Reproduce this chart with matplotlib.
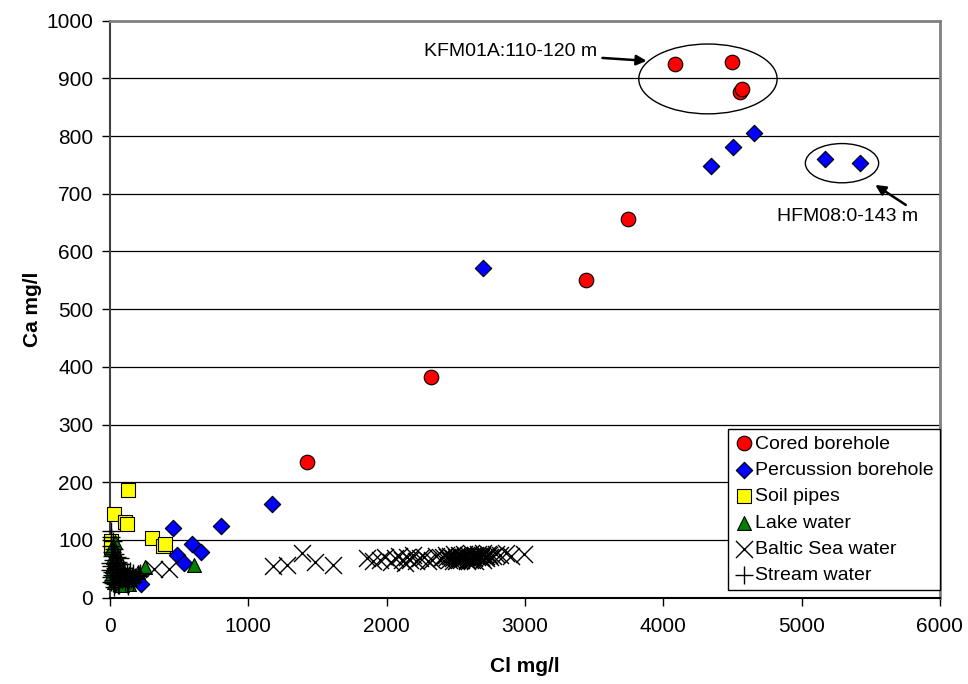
import matplotlib
matplotlib.use("Agg")
import matplotlib.pyplot as plt
from matplotlib.patches import Ellipse
import numpy as np

plt.rcParams['font.family'] = ['Liberation Sans', 'DejaVu Sans']

# Cored borehole
cored_cl = [1424, 2320, 3441, 3745, 4084, 4496, 4554, 4569]
cored_ca = [235, 382, 551, 656, 925, 928, 876, 881]

# Percussion borehole
perc_cl = [224, 455, 484, 535, 593, 658, 802, 1171, 2696, 4345, 4504, 4655, 5169, 5422]
perc_ca = [24, 121, 74, 60, 93, 79, 124, 162, 571, 748, 781, 805, 760, 753]

# Soil pipes
soil_cl = [130, 29, 108, 304, 383, 398, 10, 5, 120]
soil_ca = [187, 145, 131, 103, 90, 93, 98, 88, 128]

# Lake water
lake_cl = [35, 20, 10, 45, 25, 60, 15, 80, 100, 5, 50, 130, 70, 140, 253, 610,
           170, 30, 90, 200, 110, 40, 12]
lake_ca = [96, 90, 85, 78, 70, 60, 55, 50, 45, 40, 35, 38, 30, 24, 53, 57,
           40, 28, 22, 45, 35, 62, 48]

# Baltic Sea water
baltic_cl = [318, 427, 1180, 1280, 1387, 1482, 1612, 1860, 1900, 1950, 1990, 2030,
             2060, 2090, 2110, 2130, 2150, 2170, 2190, 2210, 2240, 2270, 2300, 2330,
             2360, 2390, 2410, 2430, 2450, 2460, 2480, 2490, 2500, 2510, 2520, 2530,
             2540, 2550, 2560, 2570, 2580, 2590, 2600, 2610, 2620, 2630, 2640, 2650,
             2660, 2670, 2680, 2690, 2700, 2710, 2720, 2730, 2740, 2750, 2770, 2790,
             2820, 2860, 2900, 2990, 2480, 2520, 2560, 2600, 2640, 2680, 2720, 2580,
             2620, 2660, 2540, 2500, 2700, 2440]
baltic_ca = [50, 50, 55, 57, 78, 62, 57, 68, 64, 66, 70, 62, 68, 72, 65, 60, 70, 66,
             74, 63, 68, 70, 64, 66, 72, 68, 70, 74, 66, 72, 68, 76, 70, 66, 74, 72,
             68, 70, 76, 72, 66, 74, 70, 78, 72, 68, 74, 70, 76, 72, 68, 74, 78, 70,
             72, 76, 74, 70, 72, 76, 74, 78, 72, 76, 64, 66, 68, 66, 64, 70, 68, 64,
             66, 72, 66, 64, 66, 70]

# Stream water
stream_cl = [5, 10, 20, 8, 30, 15, 40, 50, 25, 60, 70, 10, 35, 80, 100, 120, 45,
             140, 160, 5, 55, 90, 110, 20, 65, 130, 180, 200, 220, 30, 15, 75, 2, 150,
             12, 45, 85, 3, 25, 40, 60, 95, 115, 135, 170, 190, 210, 18, 50, 70, 105,
             125, 145, 165, 8, 35, 55, 80]
stream_ca = [115, 105, 98, 90, 85, 80, 75, 70, 65, 62, 58, 55, 52, 50, 48, 45, 42,
             40, 38, 36, 33, 30, 28, 25, 22, 20, 35, 40, 42, 18, 45, 68, 60, 32,
             72, 57, 38, 48, 30, 24, 45, 52, 36, 30, 28, 34, 38, 40, 60, 44, 40,
             24, 46, 42, 28, 36, 22, 58]

fig = plt.figure(figsize=(9.68, 6.84), dpi=100)
ax = fig.add_axes([0.1136, 0.1262, 0.8574, 0.8436])

ax.scatter(cored_cl, cored_ca, s=110, marker='o', facecolor='#ff0000',
           edgecolor='black', linewidth=0.8, zorder=3, clip_on=False, label='Cored borehole')
ax.scatter(perc_cl, perc_ca, s=70, marker='D', facecolor='#0000ff',
           edgecolor='black', linewidth=0.8, zorder=3, clip_on=False, label='Percussion borehole')
ax.scatter(soil_cl, soil_ca, s=90, marker='s', facecolor='#ffff00',
           edgecolor='black', linewidth=0.8, zorder=3, clip_on=False, label='Soil pipes')
ax.scatter(lake_cl, lake_ca, s=100, marker='^', facecolor='#008000',
           edgecolor='black', linewidth=0.8, zorder=3, clip_on=False, label='Lake water')
ax.scatter(baltic_cl, baltic_ca, s=150, marker='x', color='black',
           linewidth=1.0, zorder=3, clip_on=False, label='Baltic Sea water')
ax.scatter(stream_cl, stream_ca, s=150, marker='+', color='black',
           linewidth=1.0, zorder=3, clip_on=False, label='Stream water')

ax.set_xlim(0, 6000)
ax.set_ylim(0, 1000)
ax.set_xticks(np.arange(0, 6001, 1000))
ax.set_yticks(np.arange(0, 1001, 100))
ax.tick_params(axis='both', direction='out', length=6, width=1, labelsize=15, colors='black')
ax.tick_params(axis='y', pad=6)
ax.tick_params(axis='x', pad=8)

for yv in range(100, 1000, 100):
    ax.axhline(yv, color='black', linewidth=0.9, zorder=1)

ax.spines['top'].set_color('#808080')
ax.spines['right'].set_color('#808080')
ax.spines['top'].set_linewidth(2)
ax.spines['right'].set_linewidth(2)
ax.spines['left'].set_color('#404040')
ax.spines['left'].set_linewidth(1.5)
ax.spines['bottom'].set_color('black')
ax.spines['bottom'].set_linewidth(1.5)

ax.set_xlabel('Cl mg/l', fontsize=15, fontweight='bold', labelpad=15)
ax.set_ylabel('Ca mg/l', fontsize=15, fontweight='bold', labelpad=3)

# annotations
ax.add_patch(Ellipse((4323, 899), 1000, 121, fill=False, edgecolor='black', linewidth=1, zorder=6))
ax.add_patch(Ellipse((5292, 753), 530, 68, fill=False, edgecolor='black', linewidth=1, zorder=6))

ax.annotate('KFM01A:110-120 m', xy=(3900, 930), xytext=(3520, 946),
            fontsize=14, ha='right', va='center',
            arrowprops=dict(arrowstyle='-|>', color='black', lw=1.8, mutation_scale=15))
ax.annotate('', xy=(5516, 718), xytext=(5770, 678),
            arrowprops=dict(arrowstyle='-|>', color='black', lw=1.8, mutation_scale=15))
ax.text(4820, 660, 'HFM08:0-143 m', fontsize=14, ha='left', va='center')

leg = ax.legend(loc='lower right', bbox_to_anchor=(1.0, 0.013), fontsize=14,
                frameon=True, fancybox=False, framealpha=1, edgecolor='black',
                handletextpad=0.1, handlelength=1.0, borderpad=0.3,
                labelspacing=0.45, borderaxespad=0)
leg.get_frame().set_linewidth(1)
leg.set_zorder(10)

fig.savefig('out.png', dpi=100)
